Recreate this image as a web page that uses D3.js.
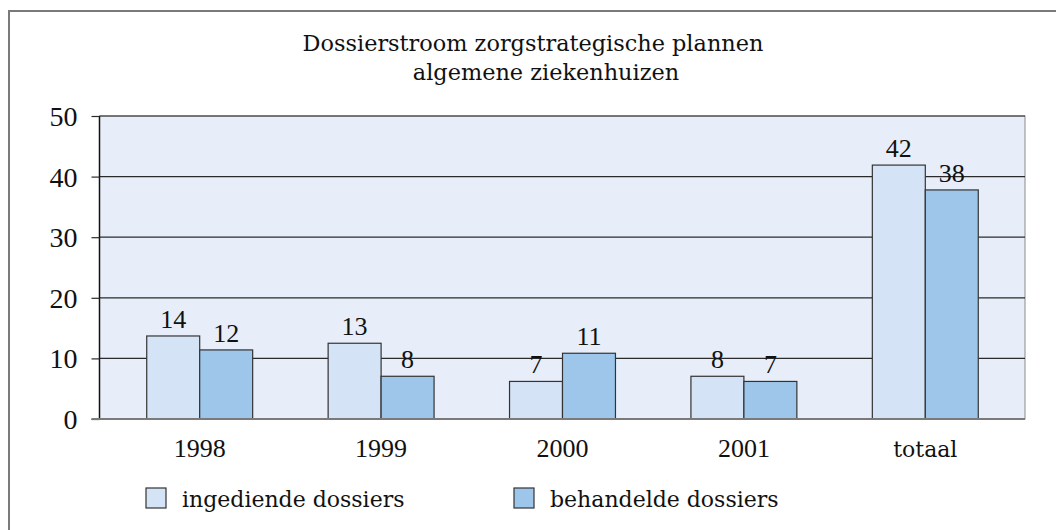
<!DOCTYPE html>
<html>
<head>
<meta charset="utf-8">
<script src="https://cdn.jsdelivr.net/npm/d3@7"></script>
<style>
  body { margin: 0; background: #fff; }
  text { fill: #111; }
</style>
</head>
<body>
<svg class="chart" width="1056" height="530"></svg>
<script>
const categories = ['1998', '1999', '2000', '2001', 'totaal'];
const seriesNames = ['ingediende dossiers', 'behandelde dossiers'];
// bar heights as drawn in the picture
const ingediend = [13.7, 12.5, 6.2, 7.05, 41.9];
const behandeld = [11.4, 7.05, 10.85, 6.2, 37.8];
// numbers printed above the bars
const ingediendLabels = [14, 13, 7, 8, 42];
const behandeldLabels = [12, 8, 11, 7, 38];
const yTicks = [0, 10, 20, 30, 40, 50];
const titleLines = ['Dossierstroom zorgstrategische plannen', 'algemene ziekenhuizen'];

const colors = ['#d4e4f6', '#9dc6ea'];
const wordFont = '"DejaVu Serif", serif';
const numFont = '"Liberation Serif", serif';

const chart = d3.select('.chart');

const plot = { left: 99.5, right: 1025, top: 116, bottom: 419 };

const data = categories.map((c, i) => ({
    cat: c,
    values: [
        { key: 0, v: ingediend[i], label: ingediendLabels[i] },
        { key: 1, v: behandeld[i], label: behandeldLabels[i] }
    ]
}));

// outer frame
chart.append('rect')
    .attr('x', 9).attr('y', 11)
    .attr('width', 1100).attr('height', 600)
    .attr('fill', 'none')
    .attr('stroke', '#7a7a7a')
    .attr('stroke-width', 2);

// title
chart.selectAll('.title').data(titleLines)
    .enter().append('text')
    .attr('class', 'title')
    .attr('x', (d, i) => i === 0 ? 533 : 546)
    .attr('y', (d, i) => 51 + i * 29)
    .attr('text-anchor', 'middle')
    .attr('font-family', wordFont)
    .attr('font-size', 22.4)
    .text(d => d);

const yScale = d3.scaleLinear()
    .domain([0, 50])
    .range([plot.bottom, plot.top]);

const x0 = d3.scaleBand()
    .domain(categories)
    .range([109, 1016])
    .paddingInner(0.416)
    .paddingOuter(0.208);

const x1 = d3.scaleBand()
    .domain([0, 1])
    .range([0, x0.bandwidth()]);

// plot background
chart.append('rect')
    .attr('x', plot.left)
    .attr('y', plot.top)
    .attr('width', plot.right - plot.left)
    .attr('height', plot.bottom - plot.top)
    .attr('fill', '#e8eef9')
    .attr('stroke', '#8a8a8a')
    .attr('stroke-width', 1);

// gridlines
chart.append('g')
    .selectAll('line').data(yTicks.filter(d => d > 0))
    .enter().append('line')
    .attr('x1', plot.left).attr('x2', plot.right)
    .attr('y1', d => yScale(d)).attr('y2', d => yScale(d))
    .attr('stroke', '#2a2a2a')
    .attr('stroke-width', 1.2);

// y axis
const yAxis = chart.append('g')
    .attr('transform', `translate(${plot.left},0)`)
    .call(d3.axisLeft(yScale).tickValues(yTicks).tickSize(8).tickPadding(14));
yAxis.select('.domain').attr('stroke', '#111').attr('stroke-width', 1.5).attr('d', `M0,${plot.top}V${plot.bottom}`);
yAxis.selectAll('.tick line').attr('stroke', '#2a2a2a').attr('stroke-width', 1.2);
yAxis.selectAll('.tick text')
    .attr('font-size', 28)
    .attr('font-family', numFont)
    .attr('fill', '#111')
    .attr('dy', '0.34em');

// bars
const groups = chart.append('g').selectAll('g').data(data)
    .enter().append('g')
    .attr('transform', d => `translate(${x0(d.cat)},0)`);

groups.selectAll('rect').data(d => d.values)
    .enter().append('rect')
    .attr('x', d => x1(d.key))
    .attr('y', d => yScale(d.v))
    .attr('width', x1.bandwidth())
    .attr('height', d => yScale(0) - yScale(d.v))
    .attr('fill', d => colors[d.key])
    .attr('stroke', '#333')
    .attr('stroke-width', 1.2);

groups.selectAll('text').data(d => d.values)
    .enter().append('text')
    .attr('x', d => x1(d.key) + x1.bandwidth() / 2)
    .attr('y', d => yScale(d.v) - 8)
    .attr('text-anchor', 'middle')
    .attr('font-family', numFont)
    .attr('font-size', 26)
    .text(d => d.label);

// baseline
chart.append('line')
    .attr('x1', plot.left - 8).attr('x2', plot.right)
    .attr('y1', yScale(0)).attr('y2', yScale(0))
    .attr('stroke', '#7a7a7a')
    .attr('stroke-width', 2);

// x axis labels
const xAxis = chart.append('g')
    .attr('transform', `translate(0,${plot.bottom})`)
    .call(d3.axisBottom(x0).tickSize(0));
xAxis.select('.domain').remove();
xAxis.selectAll('.tick text')
    .attr('y', 38)
    .attr('dy', 0)
    .attr('font-size', d => isNaN(+d) ? 22 : 26)
    .attr('font-family', d => isNaN(+d) ? wordFont : numFont)
    .attr('fill', '#111');

// legend
const legend = chart.append('g').selectAll('g').data(seriesNames)
    .enter().append('g')
    .attr('transform', (d, i) => `translate(${i === 0 ? 146 : 514},488)`);
legend.append('rect')
    .attr('width', 20).attr('height', 20)
    .attr('fill', (d, i) => colors[i])
    .attr('stroke', '#333')
    .attr('stroke-width', 1.2);
legend.append('text')
    .attr('x', 36).attr('y', 19)
    .attr('font-family', wordFont)
    .attr('font-size', 22)
    .text(d => d);
</script>
</body>
</html>
